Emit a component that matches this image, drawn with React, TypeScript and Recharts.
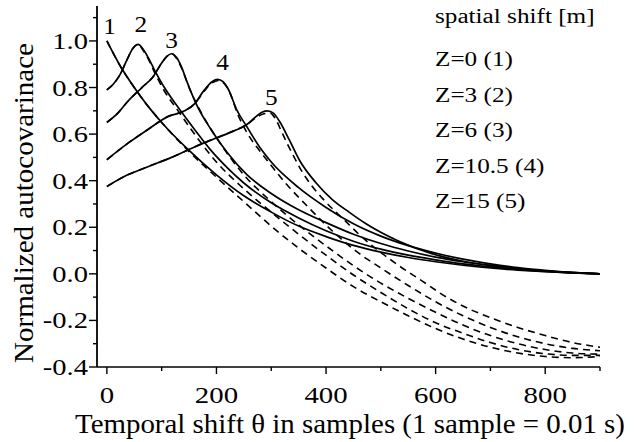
import React from 'react';
import { LineChart, Line, XAxis, YAxis, ReferenceDot, Customized } from 'recharts';

// ---------- text / ticks ----------
const xTitle = 'Temporal shift θ in samples (1 sample = 0.01 s)';
const yTitle = 'Normalized autocovarinace';
const legendTitle = 'spatial shift [m]';
const legendItems = ['Z=0 (1)', 'Z=3 (2)', 'Z=6 (3)', 'Z=10.5 (4)', 'Z=15 (5)'];
const curveNames = ['1', '2', '3', '4', '5'];
const curveLabelTheta = [5, 62, 118, 211, 300];
const curveLabelValue = [1.064, 1.073, 1.004, 0.91, 0.76];

const xTicksMajor = [0, 200, 400, 600, 800];
const xTicksMinor = [100, 300, 500, 700, 900];
const yTicksMajor = [-0.4, -0.2, 0, 0.2, 0.4, 0.6, 0.8, 1.0];
const yTicksMinor = [-0.3, -0.1, 0.1, 0.3, 0.5, 0.7, 0.9, 1.1];

// ---------- series: curve 1 ----------
const theta1 = [0, 25, 50, 75, 100, 150, 200, 250, 300, 350, 400, 450, 500, 550, 600, 650, 700, 750, 800, 850, 900];
const solid1 = [1.0, 0.89, 0.80, 0.72, 0.65, 0.53, 0.425, 0.335, 0.265, 0.205, 0.16, 0.122, 0.093, 0.07, 0.052, 0.037, 0.025, 0.016, 0.009, 0.004, 0.0];
const theta1d = [0, 25, 50, 75, 100, 150, 200, 250, 300, 350, 400, 450, 500, 550, 600, 650, 700, 750, 800, 850, 900];
const dashed1 = [1.0, 0.89, 0.80, 0.72, 0.65, 0.525, 0.415, 0.31, 0.205, 0.11, 0.025, -0.055, -0.12, -0.18, -0.235, -0.28, -0.315, -0.34, -0.355, -0.36, -0.355];

// ---------- curve 2 ----------
const theta2 = [0, 12, 24, 36, 48, 57, 66, 75, 87, 105, 130, 160, 190, 220, 250, 300, 350, 400, 450, 500, 550, 600, 650, 700, 750, 800, 850, 900];
const solid2 = [0.79, 0.815, 0.855, 0.915, 0.97, 0.985, 0.965, 0.93, 0.875, 0.80, 0.715, 0.62, 0.53, 0.455, 0.39, 0.305, 0.24, 0.185, 0.14, 0.106, 0.08, 0.06, 0.043, 0.03, 0.019, 0.01, 0.004, 0.0];
const theta2d = [0, 12, 24, 36, 48, 57, 66, 75, 87, 105, 130, 160, 200, 250, 300, 350, 400, 450, 500, 550, 600, 650, 700, 750, 800, 850, 900];
const dashed2 = [0.79, 0.815, 0.855, 0.915, 0.97, 0.985, 0.96, 0.925, 0.865, 0.785, 0.70, 0.60, 0.48, 0.365, 0.265, 0.17, 0.08, -0.005, -0.08, -0.15, -0.21, -0.255, -0.295, -0.325, -0.343, -0.35, -0.35];

// ---------- curve 3 ----------
const theta3 = [0, 20, 38, 64, 84, 100, 110, 118, 127, 136, 147, 165, 190, 220, 256, 300, 350, 400, 450, 500, 550, 600, 650, 700, 750, 800, 850, 900];
const solid3 = [0.65, 0.69, 0.74, 0.80, 0.845, 0.905, 0.935, 0.945, 0.93, 0.89, 0.82, 0.72, 0.62, 0.52, 0.425, 0.345, 0.275, 0.22, 0.17, 0.13, 0.098, 0.072, 0.052, 0.036, 0.023, 0.012, 0.005, 0.0];
const theta3d = [0, 20, 38, 64, 84, 100, 110, 118, 127, 136, 150, 175, 200, 250, 300, 350, 400, 450, 500, 550, 600, 650, 700, 750, 800, 850, 900];
const dashed3 = [0.65, 0.69, 0.74, 0.80, 0.845, 0.905, 0.935, 0.945, 0.925, 0.885, 0.80, 0.68, 0.585, 0.425, 0.31, 0.21, 0.12, 0.035, -0.04, -0.105, -0.165, -0.22, -0.265, -0.30, -0.325, -0.34, -0.345];

// ---------- curve 4 ----------
const theta4 = [0, 38, 75, 111, 142, 160, 178, 192, 202, 212, 220, 238, 256, 280, 300, 350, 400, 450, 500, 550, 600, 650, 700, 750, 800, 850, 900];
const solid4 = [0.49, 0.56, 0.62, 0.675, 0.70, 0.73, 0.79, 0.825, 0.835, 0.825, 0.80, 0.70, 0.63, 0.54, 0.48, 0.37, 0.285, 0.215, 0.162, 0.121, 0.089, 0.063, 0.043, 0.027, 0.015, 0.006, 0.0];
const theta4d = [0, 38, 75, 111, 142, 160, 178, 192, 205, 215, 225, 238, 256, 280, 300, 324, 366, 411, 456, 500, 550, 600, 650, 700, 750, 800, 850, 900];
const dashed4 = [0.49, 0.56, 0.62, 0.675, 0.70, 0.73, 0.785, 0.82, 0.83, 0.815, 0.775, 0.69, 0.605, 0.525, 0.465, 0.395, 0.29, 0.185, 0.095, 0.025, -0.05, -0.12, -0.18, -0.23, -0.27, -0.30, -0.32, -0.33];

// ---------- curve 5 ----------
const theta5 = [0, 38, 75, 118, 160, 196, 233, 255, 272, 284, 293, 304, 315, 333, 351, 382, 411, 442, 473, 533, 593, 655, 700, 750, 800, 850, 900];
const solid5 = [0.375, 0.425, 0.46, 0.50, 0.545, 0.58, 0.615, 0.64, 0.675, 0.695, 0.70, 0.69, 0.655, 0.575, 0.49, 0.39, 0.32, 0.265, 0.215, 0.14, 0.087, 0.052, 0.036, 0.023, 0.013, 0.005, 0.0];
const theta5d = [0, 38, 75, 118, 160, 196, 233, 255, 272, 284, 298, 309, 318, 329, 342, 356, 375, 393, 436, 460, 527, 575, 620, 665, 691, 750, 800, 850, 900];
const dashed5 = [0.375, 0.425, 0.46, 0.50, 0.545, 0.58, 0.615, 0.64, 0.67, 0.685, 0.69, 0.66, 0.615, 0.56, 0.50, 0.44, 0.375, 0.325, 0.225, 0.17, 0.045, -0.03, -0.10, -0.155, -0.18, -0.23, -0.265, -0.295, -0.315];

const zip = (t: number[], v: number[]) => t.map((x, i) => ({ t: x, v: v[i] }));

const solidSeries = [zip(theta1, solid1), zip(theta2, solid2), zip(theta3, solid3), zip(theta4, solid4), zip(theta5, solid5)];
const dashedSeries = [zip(theta1d, dashed1), zip(theta2d, dashed2), zip(theta3d, dashed3), zip(theta4d, dashed4), zip(theta5d, dashed5)];

// ---------- styling helpers ----------
const FONT = '"Liberation Serif", "Times New Roman", Times, serif';
const CW: Record<string, number> = {
  ' ': 0.25, '.': 0.25, '-': 0.333, '=': 0.564, '(': 0.333, ')': 0.333, '[': 0.333, ']': 0.333,
  Z: 0.611, a: 0.444, c: 0.444, e: 0.444, f: 0.333, h: 0.5, i: 0.278, l: 0.278, m: 0.778,
  p: 0.5, r: 0.333, s: 0.389, t: 0.278,
};
const textW = (s: string, fs: number) => {
  let w = 0;
  for (const c of s) w += CW[c] ?? 0.5;
  return w * fs;
};
const STRETCH = 1.24;

const XTick = (props: any) => {
  const { x, y, payload } = props;
  const v = payload.value as number;
  const major = xTicksMajor.includes(v);
  const label = String(v);
  return (
    <g>
      <line x1={x} x2={x} y1={y} y2={y + (major ? 7 : 4)} stroke="#000" strokeWidth={1.4} />
      {major && (
        <text x={x} y={y + 36} textAnchor="middle" fontSize={24} fontFamily={FONT} fill="#000"
          textLength={textW(label, 24) * 1.2} lengthAdjust="spacingAndGlyphs">{label}</text>
      )}
    </g>
  );
};

const YTick = (props: any) => {
  const { x, y, payload } = props;
  const v = payload.value as number;
  const major = yTicksMajor.some((m) => Math.abs(m - v) < 1e-9);
  const label = v.toFixed(1);
  return (
    <g>
      <line x1={x - (major ? 8 : 4)} x2={x} y1={y} y2={y} stroke="#000" strokeWidth={1.4} />
      {major && (
        <text x={x - 9} y={y + 8} textAnchor="end" fontSize={23} fontFamily={FONT} fill="#000"
          textLength={textW(label, 23) * STRETCH} lengthAdjust="spacingAndGlyphs">{label}</text>
      )}
    </g>
  );
};

const makeCurveLabel = (name: string) => (props: any) => (
  <text x={props.cx} y={props.cy + 8} textAnchor="middle" fontSize={23} fontFamily={FONT} fill="#000"
    textLength={textW(name, 23) * 1.1} lengthAdjust="spacingAndGlyphs">{name}</text>
);

const LegendBlock = () => {
  const x0 = 435;
  const baselines = [23, 66, 102, 137, 173, 208];
  const lines = [legendTitle, ...legendItems];
  return (
    <g>
      {lines.map((s, i) => (
        <text key={i} x={x0} y={baselines[i]} fontSize={20} fontFamily={FONT} fill="#000"
          textLength={textW(s, 20) * 1.26} lengthAdjust="spacingAndGlyphs">{s}</text>
      ))}
    </g>
  );
};

const AxisTitles = () => (
  <g>
    <text x={350} y={433} textAnchor="middle" fontSize={27} fontFamily={FONT} fill="#000"
      textLength={550} lengthAdjust="spacingAndGlyphs">{xTitle}</text>
    <text x={33} y={203} textAnchor="middle" fontSize={28} fontFamily={FONT} fill="#000"
      transform="rotate(-90, 33, 203)" textLength={320} lengthAdjust="spacingAndGlyphs">{yTitle}</text>
  </g>
);

const xTicks = [...xTicksMajor, ...xTicksMinor].sort((a, b) => a - b);
const yTicks = [...yTicksMajor, ...yTicksMinor].sort((a, b) => a - b);

export default function App() {
  return (
    <div style={{ position: 'absolute', left: 0, top: 0, width: 634, height: 442, background: '#fff' }}>
      <LineChart width={634} height={442} margin={{ top: 6, right: 34, bottom: 0, left: 0 }}>
        <XAxis xAxisId={0} dataKey="t" type="number" domain={[-18, 900]} ticks={xTicks} interval={0}
          tick={<XTick />} tickLine={false} tickSize={0} tickMargin={0} height={75}
          axisLine={{ stroke: '#000', strokeWidth: 1.6 }} allowDataOverflow />
        <XAxis xAxisId="top" dataKey="t" type="number" orientation="top" domain={[-18, 900]} height={0}
          tick={false} tickLine={false} axisLine={{ stroke: '#000', strokeWidth: 1.4 }} allowDataOverflow />
        <YAxis yAxisId={0} type="number" domain={[-0.4, 1.15]} ticks={yTicks} interval={0}
          tick={<YTick />} tickLine={false} tickSize={0} tickMargin={0} width={97}
          axisLine={{ stroke: '#000', strokeWidth: 1.8 }} allowDataOverflow />
        <YAxis yAxisId="right" type="number" orientation="right" domain={[-0.4, 1.15]} width={0}
          tick={false} tickLine={false} axisLine={{ stroke: '#000', strokeWidth: 1.4 }} allowDataOverflow />
        {dashedSeries.map((d, i) => (
          <Line key={'d' + i} data={d} dataKey="v" type="monotone" stroke="#000" strokeWidth={1.6}
            strokeDasharray="7 5" dot={false} activeDot={false} isAnimationActive={false} />
        ))}
        {solidSeries.map((d, i) => (
          <Line key={'s' + i} data={d} dataKey="v" type="monotone" stroke="#000" strokeWidth={1.7}
            dot={false} activeDot={false} isAnimationActive={false} />
        ))}
        {curveNames.map((n, i) => (
          <ReferenceDot key={'l' + i} x={curveLabelTheta[i]} y={curveLabelValue[i]} r={1}
            shape={makeCurveLabel(n)} />
        ))}
        <Customized component={LegendBlock} />
        <Customized component={AxisTitles} />
      </LineChart>
    </div>
  );
}
